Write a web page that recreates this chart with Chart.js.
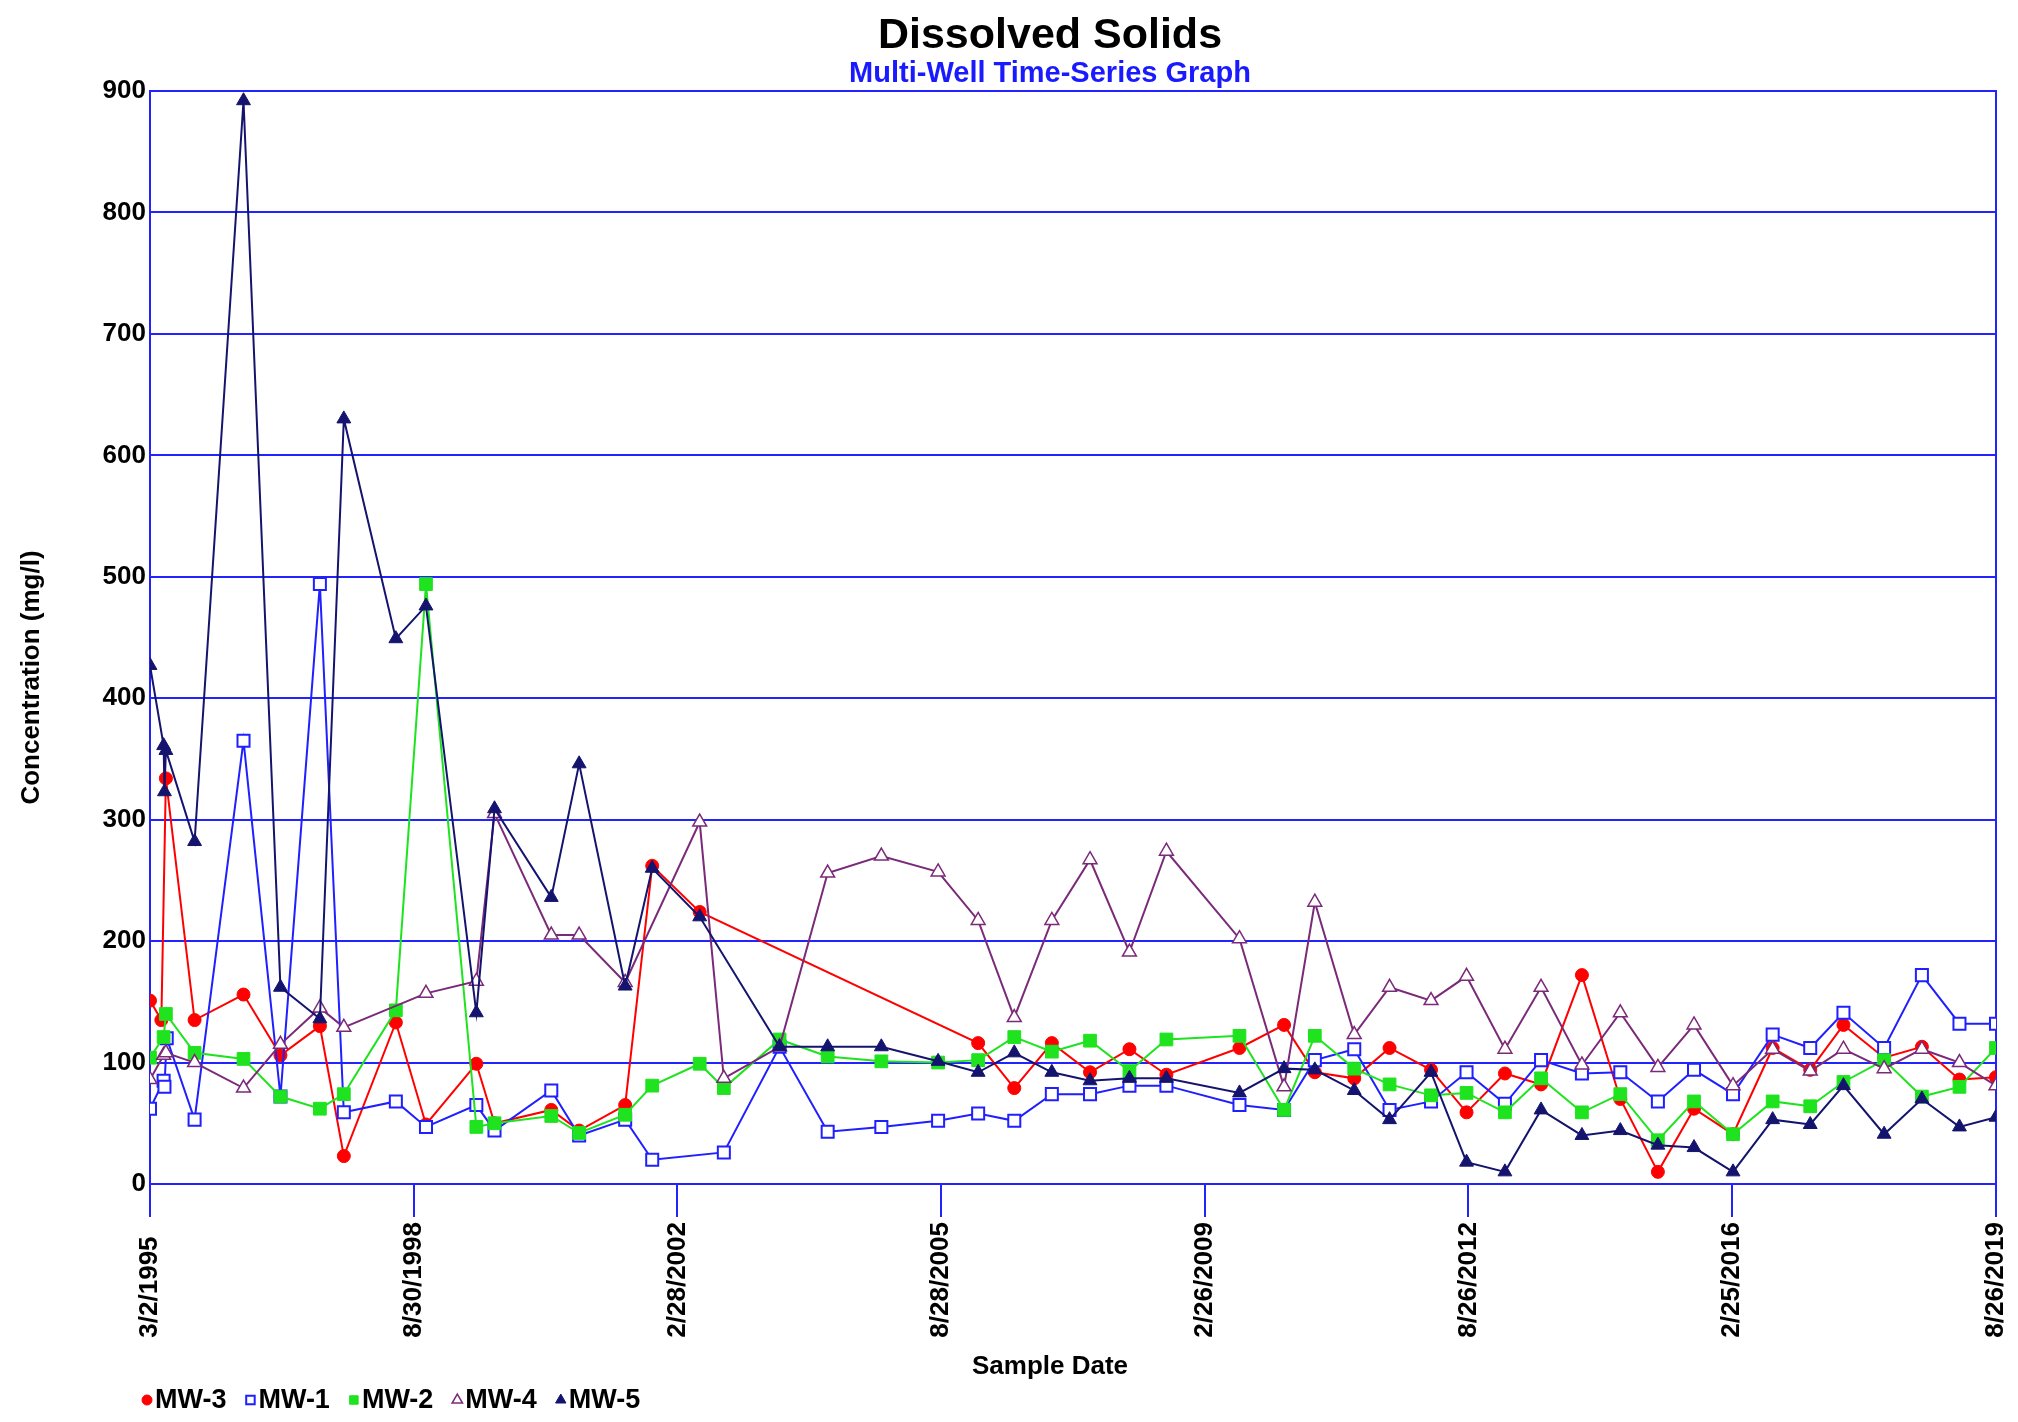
<!DOCTYPE html>
<html>
<head>
<meta charset="utf-8">
<title>Dissolved Solids</title>
<script src="https://cdn.jsdelivr.net/npm/chart.js@4.4.1/dist/chart.umd.min.js"></script>
<style>
  html, body { margin: 0; padding: 0; background: #ffffff; }
  #wrap { width: 2018px; height: 1422px; position: relative; }
</style>
</head>
<body>
<div id="wrap"><canvas id="chart" width="2018" height="1422"></canvas></div>
<script>
// Sampling dates shared by all wells (null = well not sampled that day)
const sampleDates = [
  '1995-03-02','1995-04-26','1995-05-07','1995-05-11','1995-05-18','1995-05-22','1995-10-04',
  '1996-05-28','1996-11-23','1997-06-02','1997-09-26','1998-06-05','1998-10-29','1999-06-30',
  '1999-09-26','2000-06-27','2000-11-09','2001-06-20','2001-10-29','2002-06-16','2002-10-11',
  '2003-07-08','2004-02-26','2004-11-12','2005-08-14','2006-02-24','2006-08-18','2007-02-16',
  '2007-08-20','2008-02-27','2008-08-24','2009-08-13','2010-03-17','2010-08-13','2011-02-20',
  '2011-08-10','2012-02-27','2012-08-17','2013-02-19','2013-08-13','2014-02-27','2014-09-01',
  '2015-03-02','2015-08-24','2016-02-29','2016-09-08','2017-03-09','2017-08-17','2018-03-02',
  '2018-09-01','2019-03-02','2019-08-26'
];

// Dissolved solids, mg/l
const mw3 = [151,135,null,null,334,null,135, 156,106,130,23,133,49,99, 50,61,44,65,262,224,null,
  null,null,null,null,116,79,116, 92,111,90,112,131,92,87, 112,94,59,91,82,172,70, 10,62,41,112,94,131,104, 113,86,88];
const mw1 = [62,null,85,80,null,120,53, 365,72,494,59,68,47,65, 44,77,40,53,20,null,26,
  113,43,47,52,58,52,74, 74,81,81,65,61,102,111, 61,68,92,66,102,91,92, 68,94,74,123,112,141,112, 172,132,132];
const mw2 = [104,null,121,null,140,null,108, 103,72,62,74,143,494,47, 50,56,42,57,81,99,79,
  119,105,101,100,102,121,109, 118,93,119,122,61,122,95, 82,73,75,59,87,59,74, 36,68,41,68,64,84,102, 72,80,112];
const mw4 = [86,null,106,null,108,null,100, 79,115,145,129,null,157,167, 305,205,205,166,null,298,87,
  113,256,270,257,217,137,217, 267,191,274,202,80,232,123, 162,151,171,111,162,98,141, 96,131,81,111,93,111,95, 111,100,81];
const mw5 = [427,null,361,323,357,null,282, 892,162,136,630,449,476,141, 309,236,346,163,260,220,null,
  113,113,113,101,92,108,92, 85,87,87,75,95,94,77, 53,92,18,10,61,40,44, 32,30,10,53,49,81,41, 70,47,55];

const wellNames = ['MW-3', 'MW-1', 'MW-2', 'MW-4', 'MW-5'];
const tickLabels = ['3/2/1995','8/30/1998','2/28/2002','8/28/2005','2/26/2009','8/26/2012','2/25/2016','8/26/2019'];
const yTicks = [0, 100, 200, 300, 400, 500, 600, 700, 800, 900];

const FONT = '"Liberation Sans", Arial, Helvetica, sans-serif';
const GRID_BLUE = '#2323ff';
const TITLE_CENTER_X = 1050;

function labelToTime(s) {
  const [m, d, y] = s.split('/').map(Number);
  return Date.UTC(y, m - 1, d);
}
const tickTimes = tickLabels.map(labelToTime);
const longestTick = Math.max(...tickLabels.map(s => s.length));

function series(values) {
  return sampleDates.map((d, i) => ({ x: Date.parse(d), y: values[i] }));
}

const styles = [
  { color: '#ff0000', fill: '#ff0000', pointStyle: 'circle',   radius: 6.5, border: 1,   order: 5 },
  { color: '#1f1fff', fill: '#ffffff', pointStyle: 'rect',     radius: 8.5, border: 2,   order: 4 },
  { color: '#1ee31e', fill: '#1ee31e', pointStyle: 'rect',     radius: 9,   border: 1,   order: 3 },
  { color: '#7a2a78', fill: '#ffffff', pointStyle: 'triangle', radius: 8,   border: 1.5, order: 2 },
  { color: '#14146e', fill: '#14146e', pointStyle: 'triangle', radius: 8,   border: 1,   order: 1 }
];
const seriesValues = [mw3, mw1, mw2, mw4, mw5];

const datasets = seriesValues.map((vals, i) => ({
  label: wellNames[i],
  data: series(vals),
  borderColor: styles[i].color,
  backgroundColor: styles[i].fill,
  borderWidth: 2,
  pointStyle: styles[i].pointStyle,
  pointRadius: styles[i].radius,
  pointBorderWidth: styles[i].border,
  pointBorderColor: styles[i].color,
  pointBackgroundColor: styles[i].fill,
  tension: 0,
  spanGaps: true,
  order: styles[i].order
}));

// Row of well markers and names under the x axis
const wellLegend = {
  id: 'wellLegend',
  afterDraw(chart) {
    const ctx = chart.ctx;
    const y = chart.height - 22;
    let x = chart.chartArea.left - 3;
    ctx.save();
    ctx.font = 'bold 27px ' + FONT;
    ctx.textBaseline = 'middle';
    ctx.textAlign = 'left';
    chart.data.datasets.forEach((ds, i) => {
      const st = styles[i];
      ctx.fillStyle = st.fill;
      ctx.strokeStyle = st.color;
      ctx.lineWidth = st.border;
      Chart.helpers.drawPoint(ctx, { pointStyle: st.pointStyle, radius: st.pointStyle === 'circle' ? 5 : 6, rotation: 0, borderWidth: st.border }, x, y);
      ctx.fillStyle = '#000000';
      ctx.fillText(ds.label, x + 8, y + 1);
      x += 8 + ctx.measureText(ds.label).width + 24;
    });
    ctx.restore();
  }
};

// Axis titles: vertical one a little below the plot's middle, horizontal one under the dates
const axisTitles = {
  id: 'axisTitles',
  afterDraw(chart) {
    const ctx = chart.ctx;
    const a = chart.chartArea;
    ctx.save();
    ctx.font = 'bold 26px ' + FONT;
    ctx.fillStyle = '#000000';
    ctx.textAlign = 'center';
    ctx.textBaseline = 'middle';
    ctx.fillText('Sample Date', TITLE_CENTER_X, a.bottom + 183);
    ctx.translate(32, (a.top + a.bottom) / 2 + 40);
    ctx.rotate(-Math.PI / 2);
    ctx.fillText('Concentration (mg/l)', 0, 0);
    ctx.restore();
  }
};

new Chart(document.getElementById('chart'), {
  type: 'line',
  data: { datasets },
  plugins: [wellLegend, axisTitles],
  options: {
    responsive: false,
    animation: false,
    devicePixelRatio: 1,
    // left padding keeps the title block centred where the page's headings sit
    layout: { padding: { top: 0, left: 2 * TITLE_CENTER_X - 2018, right: 0, bottom: 38 } },
    plugins: {
      legend: { display: false },
      tooltip: { enabled: false },
      title: {
        display: true,
        text: 'Dissolved Solids',
        color: '#000000',
        font: { family: FONT, size: 43, weight: 'bold', lineHeight: 1 },
        padding: { top: 15, bottom: 0 }
      },
      subtitle: {
        display: true,
        text: 'Multi-Well Time-Series Graph',
        color: '#1a1aff',
        font: { family: FONT, size: 29, weight: 'bold', lineHeight: 1 },
        padding: { top: 1, bottom: 3 }
      }
    },
    scales: {
      x: {
        type: 'linear',
        position: 'bottom',
        min: tickTimes[0],
        max: tickTimes[tickTimes.length - 1],
        afterBuildTicks(scale) {
          scale.ticks = tickTimes.map(v => ({ value: v }));
        },
        afterFit(scale) {
          scale.height = 200;
          scale.paddingLeft = 0;
          scale.paddingRight = 0;
        },
        ticks: {
          autoSkip: false,
          maxRotation: 90,
          minRotation: 90,
          padding: 5,
          color: '#000000',
          font: { family: FONT, size: 26, weight: 'bold' },
          // dates start at a common baseline: shorter ones are padded at the axis end
          callback: (value, index) => tickLabels[index] + '  '.repeat(longestTick - tickLabels[index].length)
        },
        grid: {
          drawOnChartArea: false,
          drawTicks: true,
          tickLength: 33,
          color: GRID_BLUE,
          lineWidth: 2
        },
        border: { display: true, color: GRID_BLUE, width: 2 }
      },
      y: {
        position: 'left',
        min: 0,
        max: 900,
        afterBuildTicks(scale) {
          scale.ticks = yTicks.map(v => ({ value: v }));
        },
        afterFit(scale) { scale.width = 150 - (2 * TITLE_CENTER_X - 2018); },
        ticks: {
          padding: 4,
          color: '#000000',
          font: { family: FONT, size: 26, weight: 'bold' }
        },
        grid: { color: GRID_BLUE, lineWidth: 2, drawTicks: false },
        border: { display: true, color: GRID_BLUE, width: 2 }
      },
      yRight: {
        position: 'right',
        min: 0,
        max: 900,
        afterFit(scale) { scale.width = 22; },
        ticks: { display: false },
        grid: { display: false, drawTicks: false },
        border: { display: true, color: GRID_BLUE, width: 2 }
      }
    }
  }
});
</script>
</body>
</html>
